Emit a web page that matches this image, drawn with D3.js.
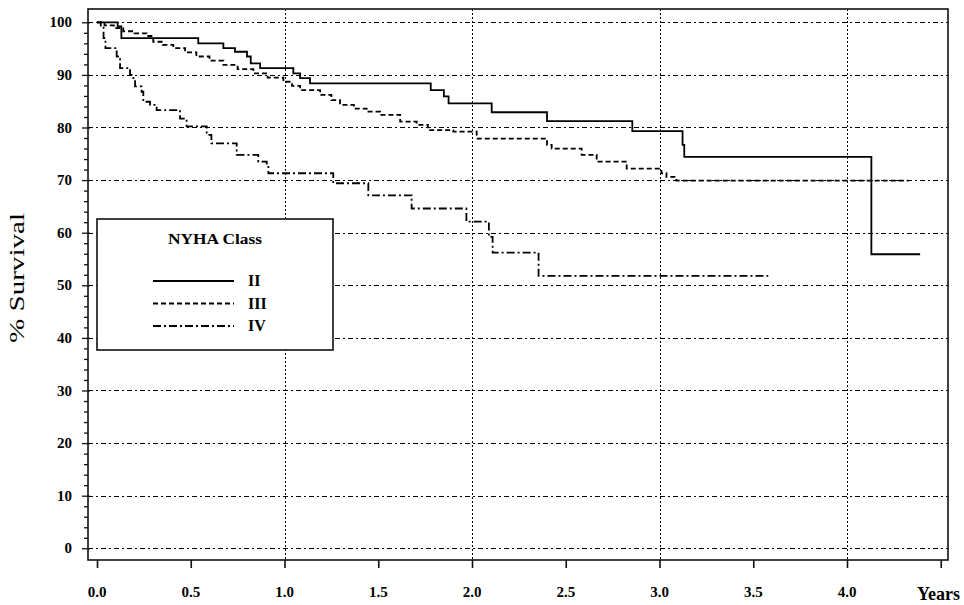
<!DOCTYPE html>
<html>
<head>
<meta charset="utf-8">
<script src="https://cdn.jsdelivr.net/npm/d3@7"></script>
<style>
  body { margin: 0; background: #fff; }
  svg { display: block; font-family: "Liberation Serif", "Times New Roman", serif; }
</style>
</head>
<body>
<svg id="chart" width="964" height="605"></svg>
<script>
// Kaplan-Meier survival by NYHA class
const classNames = ["II", "III", "IV"];

const timeII = [0, 0.11, 0.13, 0.54, 0.674, 0.736, 0.80, 0.82, 0.87, 1.047, 1.083, 1.136, 1.78, 1.85, 1.875, 2.105, 2.40, 2.855, 3.123, 3.132, 4.13, 4.39];
const survII = [100, 99.2, 97.0, 96.0, 95.1, 94.4, 93.5, 92.2, 91.3, 90.3, 89.4, 88.4, 87.1, 85.9, 84.6, 82.9, 81.2, 79.3, 76.7, 74.4, 55.9, 55.9];

const timeIII = [0, 0.04, 0.09, 0.14, 0.2, 0.265, 0.30, 0.35, 0.407, 0.47, 0.53, 0.6, 0.674, 0.75, 0.834, 0.91, 0.994, 1.04, 1.083, 1.19, 1.25, 1.296, 1.37, 1.438, 1.51, 1.617, 1.705, 1.765, 1.9, 2.025, 2.40, 2.425, 2.585, 2.665, 2.825, 3.01, 3.037, 3.09, 4.33];
const survIII = [100, 99.4, 98.9, 98.3, 97.9, 97.4, 96.3, 95.7, 95.1, 94.3, 93.5, 92.7, 91.9, 91.1, 90.3, 89.5, 88.7, 87.9, 87.1, 86.2, 85.2, 84.3, 83.6, 83.0, 82.4, 81.1, 80.5, 79.5, 79.2, 77.9, 76.7, 76.0, 74.8, 73.5, 72.2, 71.3, 70.6, 69.9, 69.9];

const timeIV = [0, 0.02, 0.035, 0.045, 0.105, 0.123, 0.176, 0.194, 0.203, 0.238, 0.247, 0.283, 0.318, 0.443, 0.478, 0.585, 0.61, 0.745, 0.86, 0.905, 0.914, 1.26, 1.447, 1.678, 1.97, 2.09, 2.11, 2.355, 3.58];
const survIV = [100, 99, 97, 95.1, 93.5, 91.3, 90.0, 89.0, 87.8, 86.8, 84.9, 84.3, 83.3, 81.7, 80.2, 78.6, 77.0, 74.8, 73.5, 72.9, 71.3, 69.4, 67.1, 64.6, 62.1, 59.2, 56.2, 51.8, 51.8];

const xTicks = [0, 0.5, 1.0, 1.5, 2.0, 2.5, 3.0, 3.5, 4.0, 4.5];
const xTickLabels = ["0.0", "0.5", "1.0", "1.5", "2.0", "2.5", "3.0", "3.5", "4.0", "Years"];
const yTicks = [0, 10, 20, 30, 40, 50, 60, 70, 80, 90, 100];
const xGrid = [1, 2, 3, 4];

const series = [
  { name: classNames[0], t: timeII, s: survII, dash: null },
  { name: classNames[1], t: timeIII, s: survIII, dash: "5,3" },
  { name: classNames[2], t: timeIV, s: survIV, dash: "8,3,2,3" }
];

const svg = d3.select("#chart");
const frame = { left: 88, right: 948, top: 9, bottom: 560 };

const x = d3.scaleLinear().domain([0, 4.5]).range([97, 940.75]);
const y = d3.scaleLinear().domain([0, 100]).range([548.3, 22.3]);

// Grid lines
svg.append("g")
  .selectAll("line")
  .data(yTicks)
  .join("line")
  .attr("x1", frame.left).attr("x2", frame.right)
  .attr("y1", d => Math.round(y(d)) + 0.5).attr("y2", d => Math.round(y(d)) + 0.5)
  .attr("stroke", "#000")
  .attr("stroke-width", 1)
  .attr("shape-rendering", "crispEdges")
  .attr("stroke-dasharray", "5,3,2,3");

svg.append("g")
  .selectAll("line")
  .data(xGrid)
  .join("line")
  .attr("x1", d => Math.round(x(d)) + 0.5).attr("x2", d => Math.round(x(d)) + 0.5)
  .attr("y1", frame.top).attr("y2", frame.bottom)
  .attr("stroke", "#000")
  .attr("stroke-width", 1)
  .attr("shape-rendering", "crispEdges")
  .attr("stroke-dasharray", "2,2");

// Frame
svg.append("rect")
  .attr("x", frame.left).attr("y", frame.top)
  .attr("width", frame.right - frame.left)
  .attr("height", frame.bottom - frame.top)
  .attr("fill", "none")
  .attr("stroke", "#111")
  .attr("stroke-width", 1.6);

// Y axis with minor ticks
const yAxis = svg.append("g").attr("transform", `translate(${frame.left},0)`);
yAxis.call(d3.axisLeft(y).tickValues(d3.range(0, 101, 2)).tickSize(4).tickFormat(""));
yAxis.selectAll(".domain").remove();
yAxis.selectAll(".tick line").attr("stroke", "#111").attr("stroke-width", 1.3);
yAxis.selectAll(".tick")
  .filter(d => d % 10 === 0)
  .select("line").attr("x1", 2).attr("x2", -6);

svg.append("g")
  .selectAll("text")
  .data(yTicks)
  .join("text")
  .attr("x", 72)
  .attr("y", d => y(d) + 5)
  .attr("text-anchor", "end")
  .attr("font-size", 15)
  .attr("font-weight", "bold")
  .attr("fill", "#000")
  .text(d => d);

// X axis
const xAxis = svg.append("g").attr("transform", `translate(0,${frame.bottom})`);
xAxis.call(d3.axisBottom(x).tickValues(xTicks).tickSize(8).tickFormat(""));
xAxis.selectAll(".domain").remove();
xAxis.selectAll(".tick line").attr("stroke", "#111").attr("stroke-width", 1.6);

svg.append("g")
  .selectAll("text")
  .data(xTicks)
  .join("text")
  .attr("x", (d, i) => i === xTicks.length - 1 ? 960 : x(d))
  .attr("y", (d, i) => i === xTicks.length - 1 ? 600 : 597)
  .attr("text-anchor", (d, i) => i === xTicks.length - 1 ? "end" : "middle")
  .attr("font-size", (d, i) => i === xTicks.length - 1 ? 18 : 15)
  .attr("font-weight", "bold")
  .attr("fill", "#000")
  .text((d, i) => xTickLabels[i]);

// Y axis title
svg.append("text")
  .attr("transform", "translate(24,278) rotate(-90)")
  .attr("text-anchor", "middle")
  .attr("font-size", 20)
  .attr("textLength", 130)
  .attr("lengthAdjust", "spacingAndGlyphs")
  .attr("fill", "#000")
  .text("% Survival");

// Survival curves
const line = d3.line()
  .x(d => x(d[0]))
  .y(d => y(d[1]))
  .curve(d3.curveStepAfter);

svg.append("g")
  .selectAll("path")
  .data(series)
  .join("path")
  .attr("d", d => line(d.t.map((t, i) => [t, d.s[i]])))
  .attr("fill", "none")
  .attr("stroke", "#000")
  .attr("stroke-width", 1.8)
  .attr("stroke-dasharray", d => d.dash);

// Legend
const legend = svg.append("g");
legend.append("rect")
  .attr("x", 97).attr("y", 219)
  .attr("width", 236).attr("height", 131)
  .attr("fill", "#fff")
  .attr("stroke", "#111")
  .attr("stroke-width", 1.6);

legend.append("text")
  .attr("x", 215).attr("y", 244)
  .attr("text-anchor", "middle")
  .attr("font-size", 15)
  .attr("font-weight", "bold")
  .attr("textLength", 94)
  .attr("lengthAdjust", "spacingAndGlyphs")
  .attr("fill", "#000")
  .text("NYHA Class");

const legendRow = legend.selectAll("g.row")
  .data(series)
  .join("g")
  .attr("class", "row")
  .attr("transform", (d, i) => `translate(0,${281 + i * 22.5})`);

legendRow.append("line")
  .attr("x1", 153).attr("x2", 234)
  .attr("stroke", "#000")
  .attr("stroke-width", 1.8)
  .attr("stroke-dasharray", d => d.dash);

legendRow.append("text")
  .attr("x", 248).attr("y", 5)
  .attr("font-size", 16)
  .attr("font-weight", "bold")
  .attr("fill", "#000")
  .text(d => d.name);
</script>
</body>
</html>
